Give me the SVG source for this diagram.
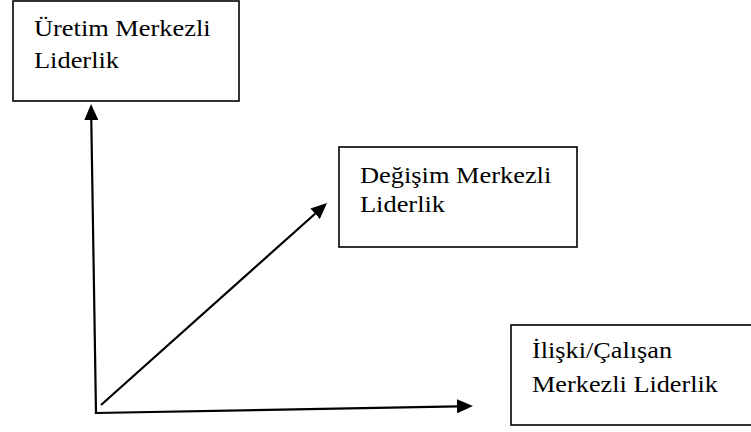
<svg xmlns="http://www.w3.org/2000/svg" width="751" height="432" viewBox="0 0 751 432">
<style>
.box{fill:#fff;stroke:#000;stroke-width:1.6}
.lbl{font-family:'Liberation Serif','Times New Roman',serif;font-size:24px;fill:#000}
.conn{stroke:#000;stroke-width:2.2;fill:none}
</style>
<defs>
<marker id="ah" markerUnits="userSpaceOnUse" markerWidth="16" markerHeight="14" refX="0" refY="7" orient="auto" viewBox="0 0 16 14">
<path d="M0,0 L16,7 L0,14 z" fill="#000"/>
</marker>
</defs>
<rect width="751" height="432" fill="#fff"/>
<g id="uretim">
<rect class="box" x="13" y="1" width="226" height="100"/>
<g transform="translate(34,0) scale(1.1,1)">
<text class="lbl" x="0" y="36">Üretim Merkezli</text>
<text class="lbl" x="0" y="68">Liderlik</text>
</g>
</g>
<g id="degisim">
<rect class="box" x="339" y="147" width="238" height="100"/>
<g transform="translate(360,0) scale(1.1,1)">
<text class="lbl" x="0" y="183">Değişim Merkezli</text>
<text class="lbl" x="0" y="212">Liderlik</text>
</g>
</g>
<g id="iliski">
<rect class="box" x="511" y="325" width="260" height="100"/>
<g transform="translate(532,0) scale(1.095,1)">
<text class="lbl" x="0" y="358">İlişki/Çalışan</text>
<text class="lbl" x="0" y="392">Merkezli Liderlik</text>
</g>
</g>
<g id="connectors">
<line class="conn" x1="96" y1="413" x2="91.3" y2="120" marker-end="url(#ah)" stroke-linecap="square"/>
<line class="conn" x1="96" y1="413" x2="457" y2="406.3" marker-end="url(#ah)" stroke-linecap="square"/>
<line class="conn" x1="101" y1="405" x2="315.1" y2="213.7" marker-end="url(#ah)"/>
</g>
</svg>
